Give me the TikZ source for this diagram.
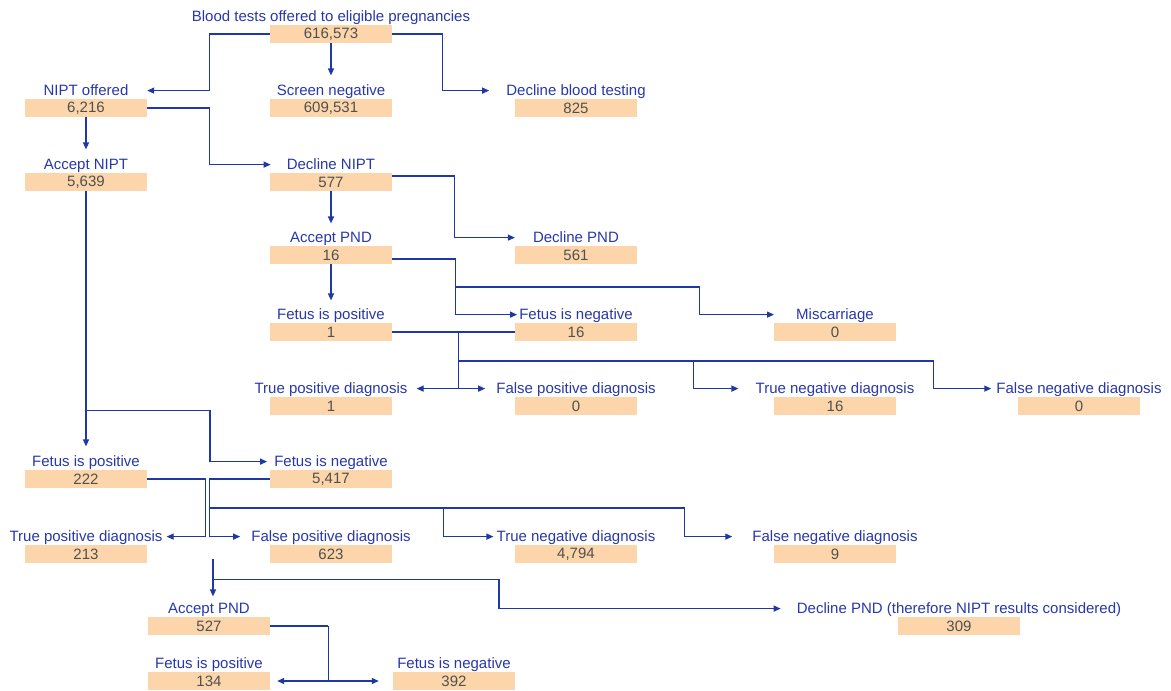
\documentclass[tikz,border=0pt]{standalone}
\usepackage{fontspec}
\setmainfont{Liberation Sans}
\usetikzlibrary{arrows.meta,positioning}
\definecolor{flowline}{RGB}{30,56,165}
\definecolor{flowtext}{RGB}{40,56,170}
\definecolor{countfill}{RGB}{252,214,170}
\definecolor{counttext}{RGB}{80,80,80}

\begin{document}
\begin{tikzpicture}[x=1pt,y=-1pt,
  cell/.style={fill=countfill,minimum width=122pt,minimum height=18pt,inner sep=0pt,
    text=counttext,font=\fontsize{15}{16}\selectfont},
  lab/.style={inner sep=0pt,text height=11pt,text depth=1pt,text=flowtext,
    font=\fontsize{15}{16}\selectfont},
  wire/.style={draw=flowline,line width=1.2pt},
  link/.style={wire,-{Triangle[length=7pt,width=6pt]}}]
  \useasboundingbox (0,0) rectangle (1171,691);
  \fill[white] (0,0) rectangle (1171,691);

  \foreach \n/\x/\y/\lab/\num in {
    blood/331/34/{Blood tests offered to eligible pregnancies}/{616,573},
    nipt/86/108/{NIPT offered}/{6,216},
    scrneg/331/108/{Screen negative}/{609,531},
    declblood/576/108/{Decline blood testing}/{825},
    accnipt/86/182/{Accept NIPT}/{5,639},
    declnipt/331/182/{Decline NIPT}/{577},
    accpnd/331/255/{Accept PND}/{16},
    declpnd/576/255/{Decline PND}/{561},
    fpos/331/332/{Fetus is positive}/{1},
    fneg/576/332/{Fetus is negative}/{16},
    misc/835/332/{Miscarriage}/{0},
    tp/331/406/{True positive diagnosis}/{1},
    fp/576/406/{False positive diagnosis}/{0},
    tn/835/406/{True negative diagnosis}/{16},
    fn/1079/406/{False negative diagnosis}/{0},
    npos/86/479/{Fetus is positive}/{222},
    nneg/331/479/{Fetus is negative}/{5,417},
    ntp/86/554/{True positive diagnosis}/{213},
    nfp/331/554/{False positive diagnosis}/{623},
    ntn/576/554/{True negative diagnosis}/{4,794},
    nfn/835/554/{False negative diagnosis}/{9},
    napnd/209/626/{Accept PND}/{527},
    ndpnd/959/626/{Decline PND (therefore NIPT results considered)}/{309},
    bpos/209/681/{Fetus is positive}/{134},
    bneg/454/681/{Fetus is negative}/{392}} {
    \node[cell] (\n) at (\x,\y) {\num};
    \node[lab,above=2pt of \n] (\n-l) {\lab};
  }

  \draw[link] (blood.west) -- ++(-60,0) |- (nipt-l.east -| nipt.east);
  \draw[link,shorten >=9pt] (blood.south) -- (scrneg-l.north);
  \draw[link] (blood.east) -- ++(50,0) |- ([xshift=-17pt]declblood-l.west);
  \draw[link,shorten >=9pt] (nipt.south) -- (accnipt-l.north);
  \draw[link] (nipt.east) -- ++(62,0) |- ([xshift=-16pt]declnipt-l.west);
  \draw[link,shorten >=8pt] (declnipt.south) -- (accpnd-l.north);
  \draw[link] ([yshift=6pt]declnipt.east) -- ++(62,0) |- ([xshift=-18pt]declpnd-l.west);
  \draw[link,shorten >=8pt] (accpnd.south) -- (fpos-l.north);
  \draw[link] ([yshift=-4pt]accpnd.east) -- ++(63,0) coordinate (pnd-split)
    |- ([xshift=-2pt]fneg-l.west);
  \draw[link] (pnd-split) ++(0,28) -- ++(244,0) |- ([xshift=-22pt]misc-l.west);

  \draw[wire] (fpos.east) -- (fneg.west);
  \coordinate (up-split) at ([xshift=66pt]fpos.east);
  \draw[link] (up-split) |- ([xshift=9pt]tp-l.east);
  \draw[link] (up-split) |- ([xshift=-11pt]fp-l.west);
  \draw[link] (up-split) ++(0,29) -- ++(475,0) |- ([xshift=-5pt]fn-l.west);
  \draw[link] (up-split) ++(235,29) |- ([xshift=-17pt]tn-l.west);

  \draw[link,shorten >=9pt] (accnipt.south) -- (npos-l.north);
  \draw[link] (accnipt.south) ++(0,219) -- ++(124,0) |- ([xshift=-7pt]nneg-l.west);
  \draw[link] (npos.east) -- ++(58,0) |- ([xshift=4pt]ntp-l.east);
  \draw[link] (nneg.west) -- ++(-60,0) |- ([xshift=-11pt]nfp-l.west);
  \draw[link] (nneg.west) ++(-60,29) -- ++(475,0) |- ([xshift=-20pt]nfn-l.west);
  \draw[link] (nneg.west) ++(174,29) |- ([xshift=-3pt]ntn-l.west);

  \draw[link] (napnd-l.north) ++(4,-43) coordinate (pos-split) -- ++(0,37);
  \draw[link] (pos-split) ++(0,20) -- ++(286,0) |- ([xshift=-16pt]ndpnd-l.west);
  \draw[wire] (napnd.east) -- ++(58,0) coordinate (pnd2-split);
  \draw[link] (pnd2-split) |- ([xshift=7pt]bpos.east);
  \draw[link] (pnd2-split) |- ([xshift=-14pt]bneg.west);
\end{tikzpicture}
\end{document}
